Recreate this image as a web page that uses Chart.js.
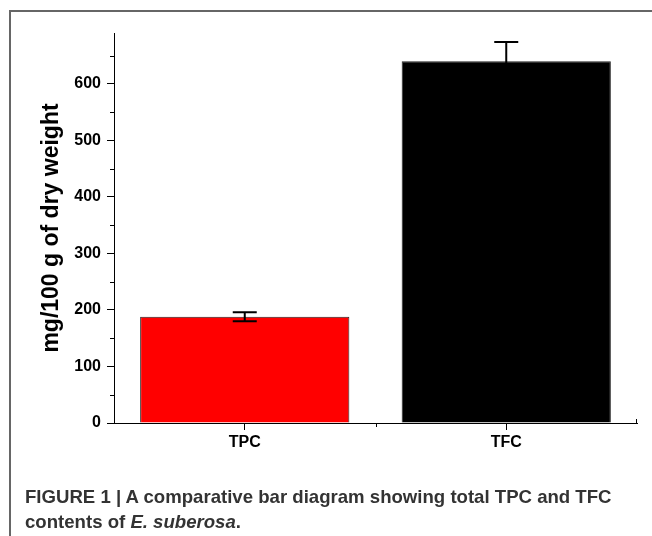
<!DOCTYPE html>
<html>
<head>
<meta charset="utf-8">
<script src="https://cdn.jsdelivr.net/npm/chart.js@4/dist/chart.umd.min.js"></script>
<style>
  html, body { margin: 0; padding: 0; background: #fff; }
  #wrap { position: relative; width: 652px; height: 536px; overflow: hidden; background: #fff; }
  #frame { position: absolute; left: 9px; top: 10px; width: 700px; height: 600px;
           border-left: 2px solid #666; border-top: 2px solid #666; }
  canvas { position: absolute; left: 0; top: 0; }
  #caption { position: absolute; left: 25px; top: 484px; font-family: "Liberation Sans", Arial, sans-serif;
             font-weight: bold; font-size: 18.6px; line-height: 25px; color: #333; white-space: nowrap; }
</style>
</head>
<body>
<div id="wrap">
  <div id="frame"></div>
  <canvas id="c" width="652" height="536"></canvas>
  <div id="caption">FIGURE 1 | A comparative bar diagram showing total TPC and TFC<br>contents of <i>E. suberosa</i>.</div>
</div>
<script>
const categories = ['TPC', 'TFC'];
const values = [188, 640];
const errors = [8, 34];
const yTicksMajor = [0, 100, 200, 300, 400, 500, 600];
const yTicksMinor = [50, 150, 250, 350, 450, 550, 650];
const yTitle = 'mg/100 g of dry weight';

const FONT = '"Liberation Sans", Arial, sans-serif';

const errorBarPlugin = {
  id: 'errorBars',
  afterDatasetsDraw(chart) {
    const ctx = chart.ctx;
    const y = chart.scales.y;
    const meta = chart.getDatasetMeta(0);
    ctx.save();
    ctx.strokeStyle = '#000';
    ctx.lineWidth = 2;
    meta.data.forEach((bar, i) => {
      const x = bar.x;
      const yTop = y.getPixelForValue(values[i] + errors[i]);
      const yBot = y.getPixelForValue(values[i] - errors[i]);
      const cap = 12;
      ctx.beginPath();
      ctx.moveTo(x, yTop); ctx.lineTo(x, yBot);
      ctx.moveTo(x - cap, yTop); ctx.lineTo(x + cap, yTop);
      ctx.moveTo(x - cap, yBot); ctx.lineTo(x + cap, yBot);
      ctx.stroke();
    });
    ctx.restore();
  },
  afterDraw(chart) {
    const ctx = chart.ctx;
    const y = chart.scales.y;
    const x = chart.scales.x;
    const area = chart.chartArea;
    ctx.save();
    ctx.strokeStyle = '#000';
    ctx.lineWidth = 1;
    ctx.beginPath();
    yTicksMinor.forEach(v => {
      const py = Math.round(y.getPixelForValue(v)) + 0.5;
      ctx.moveTo(area.left - 4, py); ctx.lineTo(area.left, py);
    });
    const mid = (x.getPixelForValue(0) + x.getPixelForValue(1)) / 2;
    const pm = Math.round(mid) + 0.5;
    ctx.moveTo(pm, area.bottom); ctx.lineTo(pm, area.bottom + 4);
    const pr = Math.round(area.right) - 0.5;
    ctx.moveTo(pr, area.bottom); ctx.lineTo(pr, area.bottom - 4);
    ctx.stroke();
    ctx.restore();
  }
};

new Chart(document.getElementById('c'), {
  type: 'bar',
  data: {
    labels: categories,
    datasets: [{
      data: values,
      backgroundColor: ['#ff0000', '#000000'],
      borderColor: '#222',
      borderWidth: 1,
      barPercentage: 0.8,
      categoryPercentage: 1.0
    }]
  },
  options: {
    responsive: false,
    devicePixelRatio: 1,
    animation: false,
    layout: { padding: { left: 0, top: 33, right: 15, bottom: 83 } },
    plugins: { legend: { display: false }, tooltip: { enabled: false } },
    scales: {
      x: {
        afterFit: s => { s.height = 30; },
        grid: { offset: false, drawOnChartArea: false, drawTicks: true, tickLength: 7, color: '#000', lineWidth: 1 },
        border: { display: true, color: '#000', width: 1 },
        ticks: { color: '#000', padding: 3, font: { family: FONT, size: 16, weight: 'bold' } }
      },
      y: {
        min: 0,
        max: 690,
        afterFit: s => { s.width = 114; },
        afterBuildTicks: s => { s.ticks = yTicksMajor.map(v => ({ value: v })); },
        grid: { drawOnChartArea: false, drawTicks: true, tickLength: 7, color: '#000', lineWidth: 1 },
        border: { display: true, color: '#000', width: 1 },
        ticks: { color: '#000', padding: 6, font: { family: FONT, size: 16, weight: 'bold' } },
        title: {
          display: true,
          text: yTitle,
          color: '#000',
          font: { family: FONT, size: 23, weight: 'bold' },
          padding: { top: 38, bottom: 0 }
        }
      }
    }
  },
  plugins: [errorBarPlugin]
});
</script>
</body>
</html>
